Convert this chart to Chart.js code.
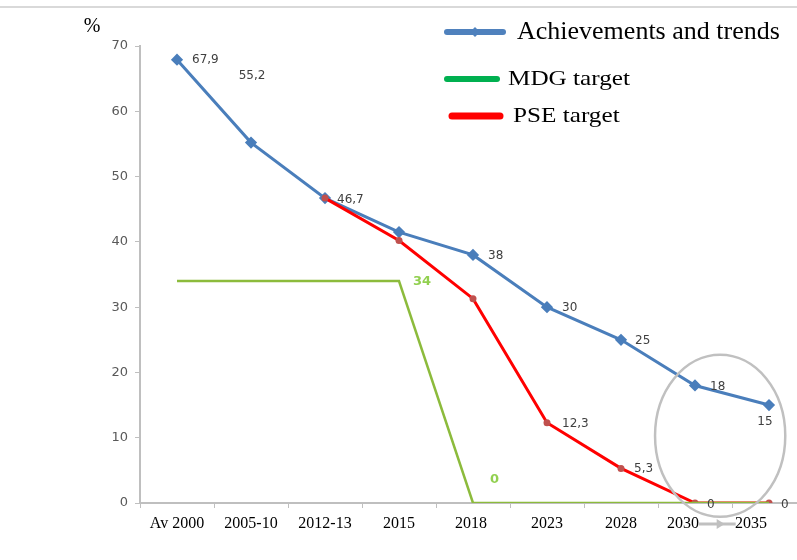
<!DOCTYPE html>
<html>
<head>
<meta charset="utf-8">
<script src="https://cdn.jsdelivr.net/npm/chart.js@4.4.1/dist/chart.umd.min.js"></script>
<style>
  html, body { margin: 0; padding: 0; background: #fff; overflow: hidden; }
  #wrap { width: 797px; height: 560px; overflow: hidden; position: relative; }
  #chart { display: block; }
</style>
</head>
<body>
<div id="wrap"><canvas id="chart" width="815" height="560"></canvas></div>
<script>
// Chart data
const categories = ['Av 2000', '2005-10', '2012-13', '2015', '2018', '2023', '2028', '2030', '2035'];
const achievements = [67.9, 55.2, 46.7, 41.5, 38, 30, 25, 18, 15];
const mdgTarget = [34, 34, 34, 34, 0, 0, 0, 0, 0];
const pseTarget = [null, null, 46.7, 40.2, 31.3, 12.3, 5.3, 0, 0];
const seriesNames = ['Achievements and trends', 'MDG target', 'PSE target'];

// Label placement: [dx, dy, align] per point, null = no label
const achLabelPos = [[15, 0, 'left'], [1, -67, 'center'], [12, 2, 'left'], null, [15, 1, 'left'], [15, 1, 'left'], [14, 1, 'left'], [15, 1, 'left'], [-4, 17, 'center']];
const mdgLabelPos = [null, null, null, [14, 1, 'left'], [17, -23, 'left'], null, null, null, null];
const pseLabelPos = [null, null, null, null, null, [15, 1, 'left'], [13, 0, 'left'], [12, 2, 'left'], [12, 2, 'left']];
// extra trailing spaces on some x labels (they sit left of their point in the original)
const tickShift = [0, 0, 0, 0, 1, 0, 0, 6, 9];

const blue = '#4a7ebb';
const red = '#ff0000';
const green = '#8cbb3c';
const legendColors = ['#4f81bd', '#00b050', '#ff0000'];

const fmt = v => String(v).replace('.', ',');

const labelPlugin = {
  id: 'pointLabels',
  afterDatasetsDraw(chart) {
    const ctx = chart.ctx;
    chart.data.datasets.forEach((ds, i) => {
      const meta = chart.getDatasetMeta(i);
      ds.labelPos.forEach((pos, j) => {
        if (!pos || ds.data[j] == null) return;
        const pt = meta.data[j];
        ctx.save();
        ctx.font = ds.labelFont;
        ctx.fillStyle = ds.labelColor;
        ctx.textAlign = pos[2];
        ctx.textBaseline = 'middle';
        ctx.fillText(fmt(ds.data[j]), pt.x + pos[0], pt.y + pos[1]);
        ctx.restore();
      });
    });
  }
};

const extrasPlugin = {
  id: 'extras',
  beforeDraw(chart) {
    const ctx = chart.ctx;
    ctx.save();
    ctx.fillStyle = '#fff';
    ctx.fillRect(0, 0, chart.width, chart.height);
    ctx.strokeStyle = '#d9d9d9';
    ctx.lineWidth = 2;
    ctx.beginPath();
    ctx.moveTo(0, 7);
    ctx.lineTo(chart.width, 7);
    ctx.stroke();
    ctx.fillStyle = '#000';
    ctx.font = '20px "Liberation Serif"';
    ctx.textAlign = 'center';
    ctx.textBaseline = 'middle';
    ctx.fillText('%', 92, 27);
    ctx.restore();
  },
  afterDraw(chart) {
    const ctx = chart.ctx;
    const xs = chart.scales.x, ys = chart.scales.y;
    // highlight ellipse around the last two periods
    const cx = xs.getPixelForValue(7.34), cy = ys.getPixelForValue(10.3);
    const rx = xs.getPixelForValue(8.22) - cx;
    const ry = ys.getPixelForValue(0) - ys.getPixelForValue(12.4);
    ctx.save();
    ctx.strokeStyle = '#c0c0c0';
    ctx.lineWidth = 2.5;
    ctx.beginPath();
    ctx.ellipse(cx, cy, rx, ry, 0, 0, Math.PI * 2);
    ctx.stroke();
    // small connector arrow under the axis
    const ay = ys.getPixelForValue(-3.2);
    const ax0 = xs.getPixelForValue(7.05), ax1 = xs.getPixelForValue(7.55);
    ctx.lineWidth = 3;
    ctx.beginPath();
    ctx.moveTo(ax0, ay);
    ctx.lineTo(ax1, ay);
    ctx.stroke();
    ctx.fillStyle = '#c0c0c0';
    ctx.beginPath();
    ctx.moveTo(ax0 + 18, ay - 5);
    ctx.lineTo(ax0 + 26, ay);
    ctx.lineTo(ax0 + 18, ay + 5);
    ctx.fill();

    // legend
    const rows = [
      { y: 32, x0: 447, x1: 503, tx: 517, size: 26, sx: 1.0, w: 6, marker: true },
      { y: 79, x0: 447, x1: 497, tx: 508, size: 21, sx: 1.2, w: 6, marker: false },
      { y: 116, x0: 452, x1: 500, tx: 513, size: 21, sx: 1.2, w: 7, marker: false }
    ];
    rows.forEach((r, i) => {
      ctx.strokeStyle = legendColors[i];
      ctx.lineWidth = r.w;
      ctx.lineCap = 'round';
      ctx.beginPath();
      ctx.moveTo(r.x0, r.y);
      ctx.lineTo(r.x1, r.y);
      ctx.stroke();
      if (r.marker) {
        ctx.fillStyle = legendColors[i];
        ctx.beginPath();
        const mx = (r.x0 + r.x1) / 2;
        ctx.moveTo(mx, r.y - 5);
        ctx.lineTo(mx + 5, r.y);
        ctx.lineTo(mx, r.y + 5);
        ctx.lineTo(mx - 5, r.y);
        ctx.fill();
      }
      ctx.save();
      ctx.translate(r.tx, r.y);
      ctx.scale(r.sx, 1);
      ctx.fillStyle = '#000';
      ctx.font = r.size + 'px "Liberation Serif"';
      ctx.textAlign = 'left';
      ctx.textBaseline = 'middle';
      ctx.fillText(seriesNames[i], 0, 0);
      ctx.restore();
    });
    ctx.restore();
  }
};

new Chart(document.getElementById('chart'), {
  type: 'line',
  data: {
    labels: categories,
    datasets: [
      {
        label: seriesNames[0],
        data: achievements,
        borderColor: blue,
        backgroundColor: blue,
        borderWidth: 3,
        pointStyle: 'rectRot',
        pointRadius: 4,
        order: 2,
        labelPos: achLabelPos,
        labelFont: '12px "DejaVu Sans"',
        labelColor: '#404040'
      },
      {
        label: seriesNames[1],
        data: mdgTarget,
        borderColor: green,
        backgroundColor: green,
        borderWidth: 2.5,
        pointRadius: 0,
        order: 0,
        labelPos: mdgLabelPos,
        labelFont: 'bold 13px "DejaVu Sans"',
        labelColor: '#92d050'
      },
      {
        label: seriesNames[2],
        data: pseTarget,
        borderColor: red,
        backgroundColor: '#c0504d',
        borderWidth: 3,
        pointRadius: 3.5,
        pointBorderWidth: 0,
        order: 1,
        labelPos: pseLabelPos,
        labelFont: '12px "DejaVu Sans"',
        labelColor: '#404040'
      }
    ]
  },
  options: {
    responsive: false,
    animation: false,
    devicePixelRatio: 1,
    layout: { padding: { top: 46, right: 9, left: 0, bottom: 0 } },
    plugins: {
      legend: { display: false },
      tooltip: { enabled: false }
    },
    scales: {
      x: {
        offset: true,
        grid: { offset: true, drawOnChartArea: false, drawTicks: true, tickLength: 5, color: '#bfbfbf' },
        border: { color: '#bfbfbf', width: 2 },
        ticks: {
          color: '#000',
          font: { family: 'Liberation Serif', size: 16 },
          padding: 6,
          maxRotation: 0,
          autoSkip: false,
          callback: (v, i) => categories[i] + ' '.repeat(tickShift[i])
        },
        afterFit: s => { s.height = 57; }
      },
      y: {
        min: 0,
        max: 70,
        grid: { drawOnChartArea: false, drawTicks: true, tickLength: 5, color: '#bfbfbf' },
        border: { color: '#bfbfbf', width: 2 },
        ticks: { stepSize: 10, color: '#595959', font: { family: 'DejaVu Sans', size: 13 }, padding: 7 },
        afterFit: s => { s.width = 140; }
      }
    }
  },
  plugins: [labelPlugin, extrasPlugin]
});
</script>
</body>
</html>
